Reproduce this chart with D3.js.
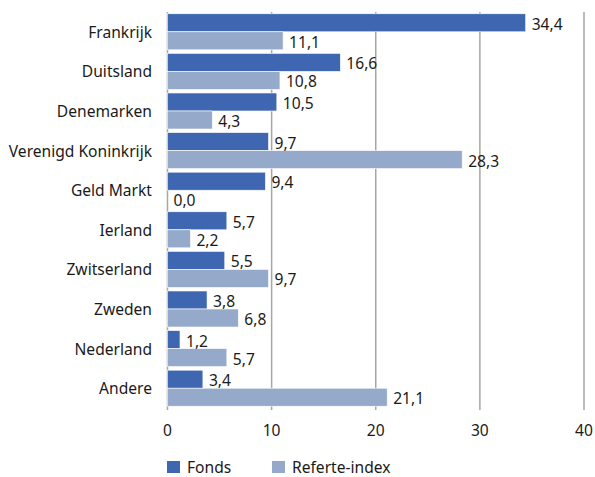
<!DOCTYPE html>
<html>
<head>
<meta charset="utf-8">
<script src="https://cdn.jsdelivr.net/npm/d3@7"></script>
<style>
  body { margin: 0; background: #fff; }
  text { font-family: "Noto Sans", "Open Sans", sans-serif; fill: #1a1a1a; }
</style>
</head>
<body>
<div id="chart"></div>
<script>
var categories = ["Frankrijk", "Duitsland", "Denemarken", "Verenigd Koninkrijk", "Geld Markt",
    "Ierland", "Zwitserland", "Zweden", "Nederland", "Andere"];
var fonds = [34.4, 16.6, 10.5, 9.7, 9.4, 5.7, 5.5, 3.8, 1.2, 3.4];
var referte = [11.1, 10.8, 4.3, 28.3, 0.0, 2.2, 9.7, 6.8, 5.7, 21.1];
var seriesNames = ["Fonds", "Referte-index"];
var xTicks = [0, 10, 20, 30, 40];

var width = 595, height = 477;
var colors = ["#3F67B1", "#95AACB"];
var fontSize = "15.6px";

var svg = d3.select("#chart").append("svg")
    .attr("width", width)
    .attr("height", height);

var x = d3.scaleLinear().domain([0, 40]).range([167.5, 584]);
var y = d3.scaleBand().domain(categories).range([12, 408]).paddingInner(0.09).paddingOuter(0.045);
var ySub = d3.scaleBand().domain([0, 1]).range([0, y.bandwidth()]);

// gridlines
svg.selectAll(".grid")
    .data(xTicks)
    .enter()
    .append("line")
    .attr("x1", function (d) { return x(d); })
    .attr("x2", function (d) { return x(d); })
    .attr("y1", 12)
    .attr("y2", 410)
    .attr("stroke", "#A6A6A6")
    .attr("stroke-width", 1.5);

var rows = categories.map(function (c, i) {
    return { cat: c, vals: [fonds[i], referte[i]] };
});

var groups = svg.selectAll(".row")
    .data(rows)
    .enter()
    .append("g")
    .attr("transform", function (d) { return "translate(0," + y(d.cat) + ")"; });

groups.selectAll("rect")
    .data(function (d) { return d.vals; })
    .enter()
    .append("rect")
    .attr("x", x(0))
    .attr("y", function (d, i) { return ySub(i); })
    .attr("width", function (d) { return x(d) - x(0); })
    .attr("height", ySub.bandwidth())
    .attr("fill", function (d, i) { return colors[i]; })
    .attr("stroke", "#fff")
    .attr("stroke-width", 0.6);

groups.selectAll(".val")
    .data(function (d) { return d.vals; })
    .enter()
    .append("text")
    .attr("x", function (d) { return x(d) + 6; })
    .attr("y", function (d, i) { return ySub(i) + ySub.bandwidth() / 2 + 7; })
    .style("font-size", fontSize)
    .text(function (d) { return d.toFixed(1).replace(".", ","); });

// category labels
svg.selectAll(".cat")
    .data(categories)
    .enter()
    .append("text")
    .attr("x", 152)
    .attr("y", function (d) { return y(d) + y.bandwidth() / 2 + 6; })
    .attr("text-anchor", "end")
    .style("font-size", fontSize)
    .text(function (d) { return d; });

// x tick labels
svg.selectAll(".tick")
    .data(xTicks)
    .enter()
    .append("text")
    .attr("x", function (d) { return x(d); })
    .attr("y", 436)
    .attr("text-anchor", "middle")
    .style("font-size", fontSize)
    .text(function (d) { return d; });

// legend
var legendX = [167, 272];
var legend = svg.selectAll(".legend")
    .data(seriesNames)
    .enter()
    .append("g")
    .attr("transform", function (d, i) { return "translate(" + legendX[i] + ",461)"; });

legend.append("rect")
    .attr("width", 13)
    .attr("height", 12)
    .attr("fill", function (d, i) { return colors[i]; });

legend.append("text")
    .attr("x", 20)
    .attr("y", 12)
    .style("font-size", fontSize)
    .text(function (d) { return d; });
</script>
</body>
</html>
